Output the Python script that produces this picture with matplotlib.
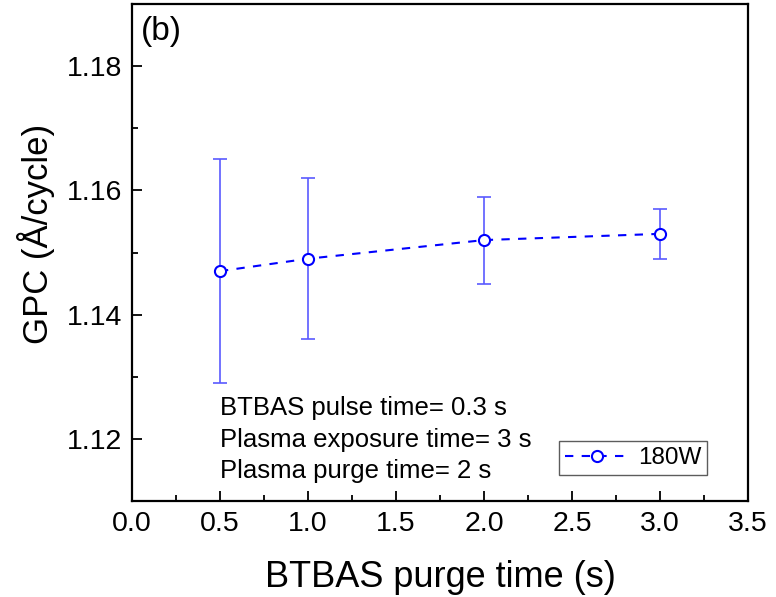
import numpy as np
import matplotlib
matplotlib.use('Agg')
import matplotlib.pyplot as plt
from matplotlib.ticker import MultipleLocator

plt.rcParams['font.family'] = ['Liberation Sans', 'DejaVu Sans']

# Data
purge_time = [0.5, 1.0, 2.0, 3.0]
gpc = [1.147, 1.149, 1.152, 1.153]
gpc_err = [0.018, 0.013, 0.007, 0.004]
series_label = '180W'
notes = ['BTBAS pulse time= 0.3 s',
         'Plasma exposure time= 3 s',
         'Plasma purge time= 2 s']

fig = plt.figure(figsize=(7.76, 5.97), dpi=100)
ax = fig.add_axes([0.170, 0.1608, 0.794, 0.8325])

# error bars drawn separately (lighter blue, solid)
ax.errorbar(purge_time, gpc, yerr=gpc_err, fmt='none', ecolor='#5a5aff',
            elinewidth=1.2, capsize=5, capthick=1.2, zorder=2)
ax.plot(purge_time, gpc, color='#0000ff', linestyle=(0, (4, 4)), linewidth=1.5,
        marker='o', markersize=8, markerfacecolor='white', markeredgecolor='#0000ff',
        markeredgewidth=1.5, label=series_label, zorder=3)

ax.set_xlim(0, 3.5)
ax.set_ylim(1.11, 1.19)
ax.xaxis.set_major_locator(MultipleLocator(0.5))
ax.xaxis.set_minor_locator(MultipleLocator(0.25))
ax.yaxis.set_major_locator(MultipleLocator(0.02))
ax.yaxis.set_minor_locator(MultipleLocator(0.01))
ax.xaxis.set_major_formatter(plt.FormatStrFormatter('%.1f'))
ax.yaxis.set_major_formatter(plt.FormatStrFormatter('%.2f'))

ax.tick_params(which='both', direction='in', top=False, right=False, width=1.3)
ax.tick_params(which='major', length=7, labelsize=20.5, pad=7)
ax.tick_params(which='minor', length=4)
for s in ax.spines.values():
    s.set_linewidth(1.6)

ax.set_xlabel('BTBAS purge time (s)', fontsize=26, labelpad=17)
ax.set_ylabel('GPC (Å/cycle)', fontsize=25)
ax.yaxis.set_label_coords(-0.125, 0.537)

ax.text(0.015, 0.976, '(b)', transform=ax.transAxes, fontsize=24,
        ha='left', va='top')
for i, line in enumerate(notes):
    ax.text(0.143, 0.173 - i * 0.0637, line, transform=ax.transAxes,
            fontsize=18.5, ha='left', va='baseline')

leg = ax.legend(loc='lower right', bbox_to_anchor=(0.934, 0.052), fontsize=17.5,
                frameon=True, fancybox=False, handlelength=2.6, handletextpad=0.4,
                borderpad=0.25, borderaxespad=0)
leg.get_frame().set_edgecolor('#333333')
leg.get_frame().set_linewidth(1.0)

fig.savefig('out.png', dpi=100)
